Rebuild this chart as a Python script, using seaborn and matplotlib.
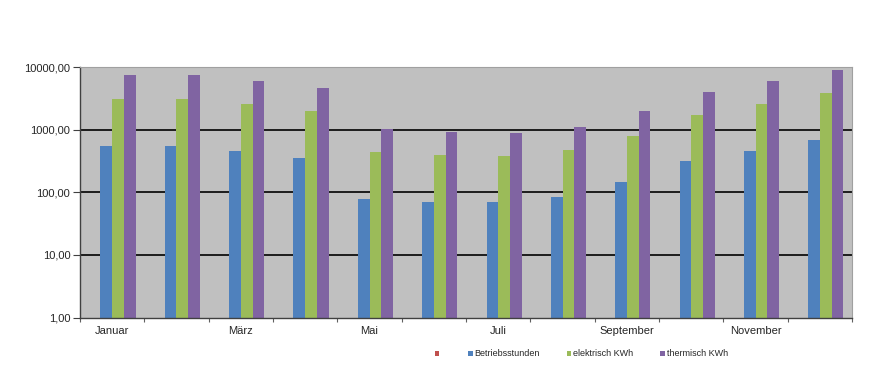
import matplotlib.pyplot as plt
import numpy as np
import pandas as pd
import seaborn as sns
from matplotlib.patches import Patch
from matplotlib.ticker import FixedLocator, FuncFormatter

months = ["Januar", "Februar", "März", "April", "Mai", "Juni", "Juli",
          "August", "September", "Oktober", "November", "Dezember"]
series_names = ["", "Betriebsstunden", "elektrisch KWh", "thermisch KWh"]
series_colors = ["#C0504D", "#4F81BD", "#9BBB59", "#8064A2"]

leer = [np.nan] * 12
betriebsstunden = [560, 550, 458, 354, 79, 71, 70, 85, 146, 313, 458, 679]
elektrisch = [3160, 3080, 2560, 1980, 437, 392, 390, 480, 814, 1706, 2560, 3840]
thermisch = [7530, 7450, 6120, 4660, 1050, 910, 900, 1125, 1980, 4090, 5970, 8950]

df = pd.DataFrame({
    "Monat": months * 4,
    "Reihe": [s for s in series_names for _ in months],
    "Wert": leer + betriebsstunden + elektrisch + thermisch,
})

sns.set_theme(style="white")
plt.rcParams["font.family"] = ["Liberation Sans", "DejaVu Sans"]

fig = plt.figure(figsize=(8.74, 3.83), dpi=100)
ax = fig.add_axes([0.0915, 0.171, 0.8835, 0.653])
ax.set_facecolor("#C0C0C0")
ax.set_yscale("log")

sns.barplot(data=df, x="Monat", y="Wert", hue="Reihe", hue_order=series_names,
            palette=series_colors, order=months, width=0.727, ax=ax,
            saturation=1, errorbar=None, legend=False, linewidth=0)

ax.set_ylim(1, 10000)
ax.set_xlim(-0.5, 11.5)
ax.yaxis.set_major_locator(FixedLocator([1, 10, 100, 1000, 10000]))
ax.yaxis.set_minor_locator(FixedLocator([]))
ax.yaxis.set_major_formatter(FuncFormatter(lambda v, p: f"{v:.2f}".replace(".", ",")))
for y in [10, 100, 1000]:
    ax.axhline(y, color="black", linewidth=1.2, zorder=0.5)
ax.set_axisbelow(True)

ax.set_xticks(np.arange(-0.5, 12, 1))
ax.set_xticklabels([])
ax.set_xticks(np.arange(12), minor=True)
ax.set_xticklabels([m if i % 2 == 0 else "" for i, m in enumerate(months)], minor=True)
ax.tick_params(axis="x", which="major", direction="out", length=3, width=0.8,
               color="#606060", bottom=True)
ax.tick_params(axis="x", which="minor", length=0, labelsize=8, pad=6)
ax.tick_params(axis="y", which="major", direction="out", length=5, width=0.8,
               color="#404040", left=True, labelsize=8, pad=2)

ax.set_xlabel("")
ax.set_ylabel("")
for side in ["left", "bottom"]:
    ax.spines[side].set_color("#404040")
    ax.spines[side].set_linewidth(1)
for side in ["top", "right"]:
    ax.spines[side].set_color("#A0A0A0")
    ax.spines[side].set_linewidth(0.8)

handles = [Patch(facecolor=c, edgecolor="none") for c in series_colors]
fig.legend(handles, series_names, loc="center", bbox_to_anchor=(0.665, 0.076),
           ncol=4, frameon=False, fontsize=6.5, handlelength=0.5, handleheight=0.5,
           handletextpad=0.2, columnspacing=3.0)

fig.savefig("out.png", dpi=100)
